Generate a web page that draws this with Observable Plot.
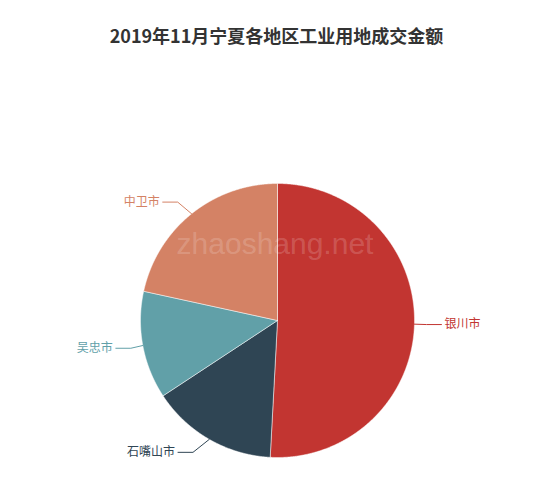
<!DOCTYPE html>
<html><head><meta charset="utf-8">
<script src="https://cdn.jsdelivr.net/npm/d3@7"></script>
<script src="https://cdn.jsdelivr.net/npm/@observablehq/plot@0.6"></script>
<style>
html,body{margin:0;padding:0;background:#fff;}
#title{box-sizing:border-box;height:60px;width:550px;padding-top:23px;padding-left:3px;text-align:center;font-weight:bold;font-size:18px;line-height:24px;font-family:"Noto Sans CJK SC","Noto Sans",sans-serif;color:#333;}
</style></head><body>
<div id="title">2019年11月宁夏各地区工业用地成交金额</div>
<div id="chart"></div>
<script>
// Data (share of transaction amount)
const regions = ["银川市", "石嘴山市", "吴忠市", "中卫市"];
const amounts = [50.9, 14.9, 12.7, 21.6];
const colors = ["#c23531", "#2f4554", "#61a0a8", "#d48265"];
const watermark = ["zhaoshang.net"];

const W = 550, H = 430, cx = 277, cy = 260, r = 137;
const len1 = 15 / r, len2 = 15 / r, pad = 3 / r;

const data = regions.map((name, i) => ({name, amount: amounts[i]}));
const arcs = d3.pie().sort(null).value(d => d.amount)(data);

const slicePts = [];
arcs.forEach(a => {
  const name = a.data.name;
  slicePts.push({name, x: 0, y: 0});
  const n = Math.max(2, Math.ceil((a.endAngle - a.startAngle) / 0.005));
  for (let k = 0; k <= n; k++) {
    const t = a.startAngle + (a.endAngle - a.startAngle) * k / n;
    slicePts.push({name, x: Math.sin(t), y: Math.cos(t)});
  }
  slicePts.push({name, x: 0, y: 0});
});

// ECharts-like outside label layout
const leaderPts = [];
const labels = [];
const R2 = 1 + len1 + len2;
arcs.forEach(a => {
  const name = a.data.name;
  const m = (a.startAngle + a.endAngle) / 2;
  const sx = Math.sin(m), sy = Math.cos(m);
  const dir = sx >= 0 ? 1 : -1;
  const oy = sy * (1 + len1);
  const lx = dir * Math.sqrt(R2 * R2 - oy * oy);
  const ex = lx - dir * pad;
  const bx = ex - dir * len2;
  leaderPts.push({name, x: sx, y: sy}, {name, x: bx, y: oy}, {name, x: ex, y: oy});
  labels.push({name, right: dir > 0, x: lx, y: oy});
});

const font = '"Noto Sans CJK SC", "Noto Sans", sans-serif';

const chart = Plot.plot({
  width: W, height: H, margin: 0,
  x: {domain: [-cx / r, (W - cx) / r], range: [0, W], axis: null},
  y: {domain: [-(H - cy) / r, cy / r], range: [H, 0], axis: null},
  color: {domain: regions, range: colors},
  marks: [
    Plot.line(slicePts, {x: "x", y: "y", z: "name", fill: "name", stroke: "#fff", strokeWidth: 0.5, curve: "linear"}),
    Plot.line(leaderPts, {x: "x", y: "y", z: "name", stroke: "name", strokeWidth: 1, curve: "linear"}),
    Plot.text(labels.filter(d => d.right), {x: "x", y: "y", text: "name", fill: "name", textAnchor: "start", fontSize: 12, fontFamily: font}),
    Plot.text(labels.filter(d => !d.right), {x: "x", y: "y", text: "name", fill: "name", textAnchor: "end", fontSize: 12, fontFamily: font}),
    Plot.text(watermark, {text: d => d, frameAnchor: "top", lineAnchor: "middle", dy: 183.4, dx: -0.5, fontSize: 30, fontFamily: '"Liberation Sans", Arial, sans-serif', fill: "#fff", fillOpacity: 0.18})
  ]
});
document.getElementById("chart").appendChild(chart);
</script>
</body></html>
